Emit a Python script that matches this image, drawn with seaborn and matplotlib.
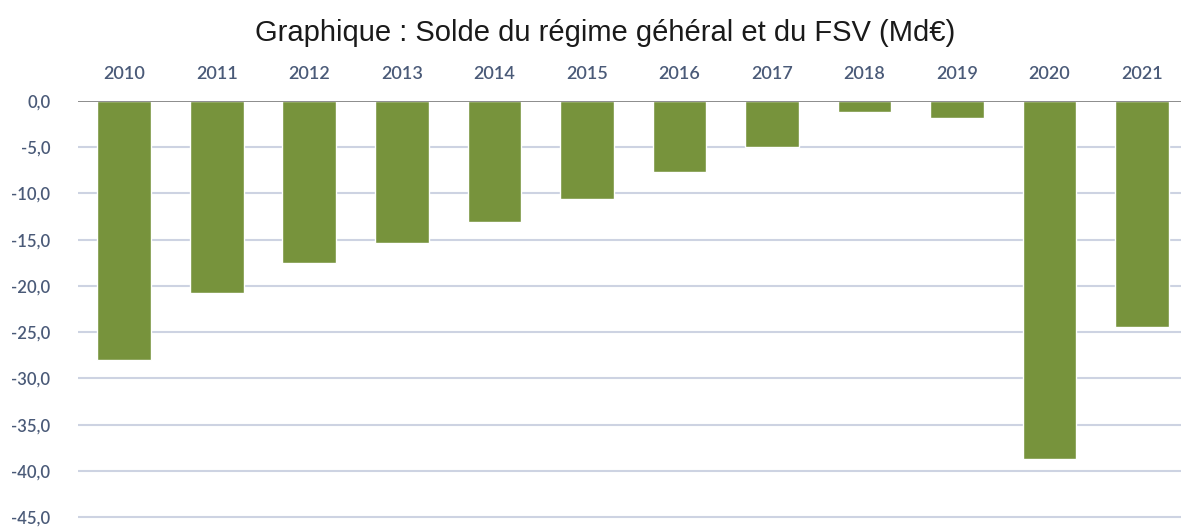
import numpy as np
import pandas as pd
import matplotlib
matplotlib.use("Agg")
import matplotlib.pyplot as plt
import seaborn as sns

# données (Md€)
annees = ['2010', '2011', '2012', '2013', '2014', '2015',
          '2016', '2017', '2018', '2019', '2020', '2021']
solde = [-28.0, -20.8, -17.5, -15.4, -13.1, -10.6,
         -7.7, -5.0, -1.2, -1.8, -38.7, -24.4]
yticks = [0, -5, -10, -15, -20, -25, -30, -35, -40, -45]

df = pd.DataFrame({'Annee': annees, 'Solde': solde})

sns.set_style('white')
plt.rcParams['font.family'] = ['Lato', 'DejaVu Sans']

fig = plt.figure(figsize=(11.81, 5.30), dpi=100)
ax = fig.add_axes([78 / 1181, 10 / 530, (1181 - 78) / 1181, 419 / 530])

# grille horizontale
for t in yticks[1:]:
    ax.axhline(t, color='#CDD3E2', lw=1.5, zorder=0)
ax.axhline(0, color='#8C8C8C', lw=1.4, zorder=3)

sns.barplot(data=df, x='Annee', y='Solde', color='#77933C', width=0.58,
            saturation=1, ax=ax, zorder=2)

ax.set_ylim(-45.3, 0)
ax.set_xlim(-0.5, 11.42)
ax.set_yticks(yticks)
ax.set_yticklabels([f'{v:.1f}'.replace('.', ',') for v in yticks])
ax.xaxis.tick_top()
ax.tick_params(axis='both', length=0, labelcolor='#4A5A78')
ax.tick_params(axis='x', pad=14, labelsize=13)
ax.tick_params(axis='y', pad=20, labelsize=12)
for lab in ax.get_xticklabels() + ax.get_yticklabels():
    lab.set_fontweight('semibold')
ax.set_xlabel('')
ax.set_ylabel('')
for s in ax.spines.values():
    s.set_visible(False)

fig.text(0.512, 0.938, 'Graphique : Solde du régime géhéral et du FSV (Md€)',
         ha='center', va='center', fontsize=21, color='#1A1A1A',
         family=['Liberation Sans', 'DejaVu Sans'])

fig.savefig('out.png', dpi=100, facecolor='white')
